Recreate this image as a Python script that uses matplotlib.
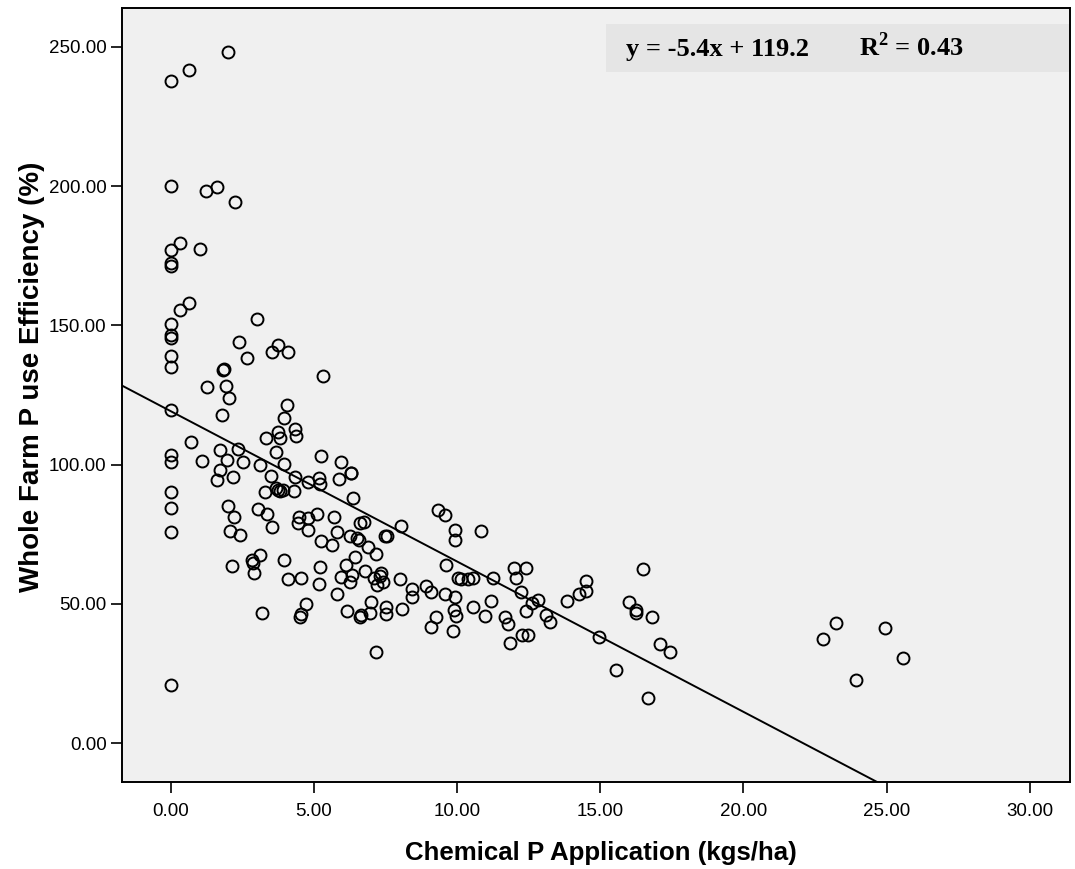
import matplotlib
matplotlib.use("Agg")
import matplotlib.pyplot as plt
from matplotlib.patches import Rectangle

plt.rcParams["mathtext.fontset"] = "custom"
plt.rcParams["mathtext.rm"] = "Liberation Serif:bold"
plt.rcParams["mathtext.bf"] = "Liberation Serif:bold"

# chemical P application (kgs/ha) and whole farm P use efficiency (%)
x_zero = [0.0] * 17
y_zero = [237.6, 200.0, 177.1, 172.3, 171.3, 150.5, 146.5, 145.4, 139.1,
          135.1, 119.6, 103.4, 101.0, 90.3, 84.3, 75.9, 20.8]

x_low = [0.64, 1.99, 1.22, 1.61, 2.24, 0.34, 1.01, 0.63, 0.31, 3.03, 2.38,
         2.65, 3.74, 3.52, 4.08, 1.85, 1.83, 1.26, 1.94, 2.04, 1.78, 4.06,
         3.95, 4.35, 4.39, 3.34, 3.73, 3.81, 0.71, 1.71, 2.36, 1.96, 1.09,
         2.53, 3.67, 3.12, 3.96, 1.71, 3.49, 4.34, 1.60, 2.18, 4.80, 3.31,
         3.74, 3.81, 3.91, 3.67, 4.30, 2.00, 2.21, 2.08, 2.41, 3.05, 3.38,
         3.54, 4.47, 4.45, 4.80, 4.80, 2.15, 3.11, 2.85, 2.87, 2.90, 3.97,
         4.09, 4.56, 4.72, 4.56, 4.53, 3.20]
y_low = [241.7, 248.1, 198.4, 199.6, 194.3, 179.7, 177.3, 158.2, 155.7,
         152.2, 143.9, 138.4, 143.0, 140.4, 140.3, 134.5, 134.0, 128.0,
         128.4, 123.8, 117.8, 121.4, 116.8, 112.8, 110.4, 109.4, 111.8,
         109.4, 108.1, 105.2, 105.7, 101.8, 101.3, 101.0, 104.6, 99.9, 100.2,
         98.1, 95.9, 95.7, 94.6, 95.7, 93.9, 90.0, 90.9, 90.5, 90.9, 91.6,
         90.6, 85.1, 81.3, 76.3, 74.7, 84.1, 82.4, 77.7, 81.1, 79.1, 80.7,
         76.5, 63.6, 67.5, 65.7, 64.8, 61.2, 65.9, 58.9, 59.4, 50.1, 46.3,
         45.1, 46.6]

x_mid = [5.17, 5.20, 5.88, 6.29, 6.37, 5.12, 5.70, 5.82, 5.24, 5.63, 6.25,
         6.49, 6.58, 6.60, 6.75, 6.89, 7.16, 7.47, 7.57, 8.03, 6.43, 6.11,
         5.20, 5.17, 5.93, 6.33, 6.25, 6.80, 7.09, 7.36, 7.30, 7.42, 7.21,
         8.00, 5.79, 6.14, 7.01, 6.66, 6.60, 6.95, 7.51, 7.51, 8.09, 8.41,
         8.41, 8.91, 9.10, 9.59, 9.92, 9.32, 9.57, 9.92, 9.92, 9.63, 10.03,
         9.88, 9.95, 9.28, 9.10, 9.84, 7.18, 5.32, 5.26, 5.94, 6.28]
y_mid = [95.1, 93.0, 94.7, 96.9, 88.1, 82.3, 81.1, 75.8, 72.6, 71.3, 74.5,
         73.7, 72.9, 78.9, 79.5, 70.5, 67.9, 74.4, 74.4, 77.9, 66.9, 63.9,
         63.3, 57.1, 59.5, 60.3, 57.9, 61.9, 59.4, 61.2, 60.0, 57.9, 56.7,
         58.9, 53.4, 47.4, 50.8, 46.0, 45.3, 46.6, 48.7, 46.3, 48.0, 55.5,
         52.5, 56.4, 54.3, 53.7, 52.5, 83.7, 81.9, 76.5, 72.9, 63.9, 59.1,
         47.8, 45.6, 45.3, 41.5, 40.2, 32.8, 131.9, 103.1, 100.8, 97.0]

x_high = [10.82, 10.15, 10.39, 10.56, 11.24, 10.56, 11.18, 10.98, 11.99,
          12.40, 12.07, 12.22, 12.62, 12.83, 12.42, 11.68, 11.78, 11.84,
          12.25, 12.48, 13.09, 13.24, 13.84, 14.25, 14.50, 14.50, 14.96,
          15.54, 16.50, 16.00, 16.26, 16.23, 16.82, 17.10, 17.45, 16.65,
          22.76, 23.23, 24.94, 23.93, 25.57]
y_high = [76.1, 58.9, 58.9, 59.4, 59.1, 48.7, 51.1, 45.6, 63.0, 62.7, 59.1,
          54.3, 50.4, 51.4, 47.4, 45.1, 42.6, 36.0, 38.8, 38.8, 46.0, 43.6,
          51.1, 53.5, 58.3, 54.7, 38.2, 26.4, 62.5, 50.8, 47.8, 46.6, 45.4,
          35.6, 32.8, 16.3, 37.2, 43.2, 41.2, 22.8, 30.5]

slope = -5.4
intercept = 119.2
r_squared = 0.43

x_ticks = [0, 5, 10, 15, 20, 25, 30]
y_ticks = [0, 50, 100, 150, 200, 250]

xs = x_zero + x_low + x_mid + x_high
ys = y_zero + y_low + y_mid + y_high

fig = plt.figure(figsize=(10.75, 8.69), dpi=100)
ax = fig.add_axes([0.1135, 0.1001, 0.8818, 0.8907])
ax.set_facecolor("#f0f0f0")

ax.plot(xs, ys, "o", mfc="none", mec="black", ms=8.6, mew=1.4, zorder=3)
ax.axline((0, intercept), slope=slope, color="black", lw=1.4, zorder=2)

ax.set_xlim(-1.7, 31.4)
ax.set_ylim(-14.0, 264.0)
ax.set_xticks(x_ticks)
ax.set_yticks(y_ticks)
ax.set_xticklabels([f"{v:.2f}" for v in x_ticks], fontsize=13.5, family="Liberation Sans")
ax.set_yticklabels([f"{v:.2f}" for v in y_ticks], fontsize=13.5, family="Liberation Sans")
ax.tick_params(direction="out", length=8, width=1.2, color="black")
ax.tick_params(axis="y", pad=3)
ax.tick_params(axis="x", pad=7)
for s in ax.spines.values():
    s.set_linewidth(1.4)
    s.set_color("black")

ax.set_xlabel("Chemical P Application (kgs/ha)", fontsize=18.6, fontweight="bold",
              family="Liberation Sans", labelpad=15)
ax.set_ylabel("Whole Farm P use Efficiency (%)", fontsize=20, fontweight="bold",
              family="Liberation Sans", labelpad=3)
ax.xaxis.label.set_x(0.505)
ax.yaxis.label.set_y(0.523)

# equation box
ax.add_patch(Rectangle((0.5105, 0.9173), 0.4895, 0.062, transform=ax.transAxes,
                       facecolor="#e5e5e5", edgecolor="none", zorder=1))
fig.text(0.5823, 0.9356, f"y = {slope}x + {intercept}", fontsize=19,
         fontweight="bold", family="Liberation Serif", va="baseline")
fig.text(0.799, 0.9356, f"R$^2$ = {r_squared}", fontsize=19,
         fontweight="bold", family="Liberation Serif", va="baseline")

fig.savefig("out.png", dpi=100)
